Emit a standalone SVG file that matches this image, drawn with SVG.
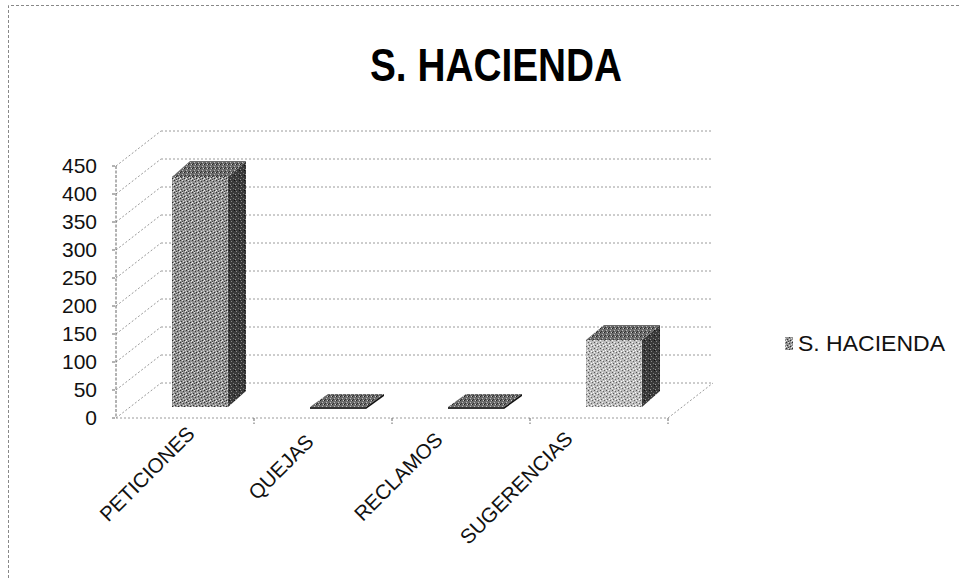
<svg xmlns="http://www.w3.org/2000/svg" width="961" height="578" viewBox="0 0 961 578">
<style>
.grid{stroke:#9a9a9a;stroke-width:1;stroke-dasharray:2 2;fill:none}
.axis{stroke:#666;stroke-width:1;stroke-dasharray:3 1.5;fill:none}
.ylab{font-family:"Liberation Sans",Arial,sans-serif;font-size:21px;fill:#111;text-anchor:end}
.xlab{font-family:"Liberation Sans",Arial,sans-serif;font-size:20.5px;fill:#111;text-anchor:end}
.title{font-family:"Liberation Sans",Arial,sans-serif;font-size:46px;font-weight:bold;fill:#000}
.leg{font-family:"Liberation Sans",Arial,sans-serif;font-size:22px;fill:#111}
</style>
<defs>
<pattern id="pFront" width="6" height="6" patternUnits="userSpaceOnUse">
<rect width="6" height="6" fill="#929292"/>
<rect x="0" y="0" width="1" height="1" fill="#2e2e2e"/><rect x="3" y="1" width="1" height="1" fill="#3a3a3a"/>
<rect x="1" y="3" width="1" height="1" fill="#333"/><rect x="4" y="4" width="1" height="1" fill="#2a2a2a"/>
<rect x="2" y="5" width="1" height="1" fill="#444"/><rect x="2" y="0" width="1" height="1" fill="#e0e0e0"/>
<rect x="5" y="2" width="1" height="1" fill="#d8d8d8"/><rect x="0" y="4" width="1" height="1" fill="#eee"/>
<rect x="3" y="3" width="1" height="1" fill="#ddd"/><rect x="5" y="5" width="1" height="1" fill="#e6e6e6"/>
</pattern>
<pattern id="pSide" width="5" height="5" patternUnits="userSpaceOnUse">
<rect width="5" height="5" fill="#3a3a3a"/>
<rect x="1" y="1" width="1" height="1" fill="#888"/><rect x="3" y="3" width="1" height="1" fill="#777"/>
<rect x="4" y="0" width="1" height="1" fill="#111"/><rect x="0" y="4" width="1" height="1" fill="#999"/>
</pattern>
<pattern id="pLight" width="6" height="6" patternUnits="userSpaceOnUse">
<rect width="6" height="6" fill="#bdbdbd"/>
<rect x="0" y="0" width="1" height="1" fill="#555"/><rect x="3" y="1" width="1" height="1" fill="#666"/>
<rect x="1" y="3" width="1" height="1" fill="#5a5a5a"/><rect x="4" y="4" width="1" height="1" fill="#606060"/>
<rect x="2" y="0" width="1" height="1" fill="#f2f2f2"/><rect x="5" y="2" width="1" height="1" fill="#fafafa"/>
<rect x="0" y="4" width="1" height="1" fill="#f5f5f5"/><rect x="3" y="3" width="1" height="1" fill="#fff"/>
</pattern>
<pattern id="pTop" width="4" height="4" patternUnits="userSpaceOnUse">
<rect width="4" height="4" fill="#6a6a6a"/>
<rect x="0" y="0" width="1" height="1" fill="#222"/><rect x="2" y="2" width="1" height="1" fill="#bbb"/>
<rect x="3" y="0" width="1" height="1" fill="#ccc"/><rect x="1" y="3" width="1" height="1" fill="#333"/>
</pattern>
</defs>
<rect width="961" height="578" fill="#fff"/>
<g id="frame">
<path d="M8.5,578 V5.5 H961" fill="none" stroke="#888" stroke-width="1" stroke-dasharray="3 2"/>
</g>
<g id="title">
<text class="title" x="370" y="81" textLength="252" lengthAdjust="spacingAndGlyphs">S. HACIENDA</text>
</g>
<g id="walls">
<path class="grid" d="M161,131H713 M161,159H713 M161,187H713 M161,215H713 M161,243H713 M161,271H713 M161,299H713 M161,327H713 M161,355H713 M161,383H713"/>
<path class="grid" d="M116,166L161,131 M116,194L161,159 M116,222L161,187 M116,250L161,215 M116,278L161,243 M116,306L161,271 M116,334L161,299 M116,362L161,327 M116,390L161,355 M116,418L161,383"/>
<path class="axis" d="M116,166V418 M112,166H116 M112,194H116 M112,222H116 M112,250H116 M112,278H116 M112,306H116 M112,334H116 M112,362H116 M112,390H116 M112,418H116"/>
<path class="grid" d="M116,418H668 L713,383"/>
<path class="axis" d="M254,418V424 M392,418V424 M530,418V424 M668,418V424"/>
</g>
<g id="yaxis-labels">
<text class="ylab" x="97" y="173">450</text>
<text class="ylab" x="97" y="201">400</text>
<text class="ylab" x="97" y="229">350</text>
<text class="ylab" x="97" y="257">300</text>
<text class="ylab" x="97" y="285">250</text>
<text class="ylab" x="97" y="313">200</text>
<text class="ylab" x="97" y="341">150</text>
<text class="ylab" x="97" y="369">100</text>
<text class="ylab" x="97" y="397">50</text>
<text class="ylab" x="97" y="425">0</text>
</g>
<g id="bar-peticiones">
<polygon points="228,177 246,161 246,391 228,407" fill="url(#pSide)"/>
<polygon points="172,177 228,177 246,161 190,161" fill="url(#pTop)"/>
<rect x="172" y="177" width="56" height="230" fill="url(#pFront)"/>
</g>
<g id="bar-quejas">
<polygon points="310,407 366,407 384,394 328,394" fill="url(#pTop)"/>
<polygon points="310,407 366,407 366,409 310,409" fill="#333"/>
<polygon points="366,407 384,394 384,396 366,409" fill="#111"/>
</g>
<g id="bar-reclamos">
<polygon points="448,407 504,407 522,394 466,394" fill="url(#pTop)"/>
<polygon points="448,407 504,407 504,409 448,409" fill="#333"/>
<polygon points="504,407 522,394 522,396 504,409" fill="#111"/>
</g>
<g id="bar-sugerencias">
<polygon points="642,340 660,325 660,391 642,407" fill="url(#pSide)"/>
<polygon points="586,340 642,340 660,325 604,325" fill="url(#pTop)"/>
<rect x="586" y="340" width="56" height="67" fill="url(#pLight)"/>
</g>
<g id="xaxis-labels">
<text class="xlab" transform="translate(196,435) rotate(-45)">PETICIONES</text>
<text class="xlab" transform="translate(315,443) rotate(-45)">QUEJAS</text>
<text class="xlab" transform="translate(444,441) rotate(-45)">RECLAMOS</text>
<text class="xlab" transform="translate(574,440) rotate(-45)">SUGERENCIAS</text>
</g>
<g id="legend">
<rect x="785" y="337" width="8" height="13" fill="url(#pFront)"/>
<text class="leg" x="798" y="351" textLength="147" lengthAdjust="spacingAndGlyphs">S. HACIENDA</text>
</g>
</svg>
